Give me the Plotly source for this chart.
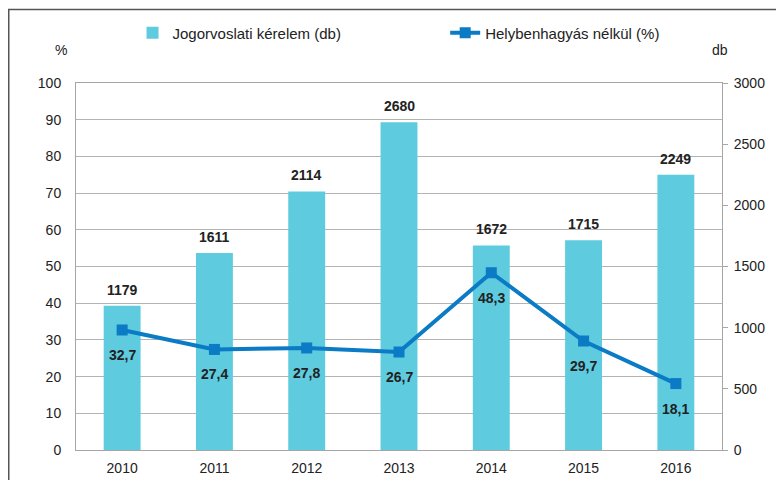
import plotly.graph_objects as go

years = ["2010", "2011", "2012", "2013", "2014", "2015", "2016"]
kerelem = [1179, 1611, 2114, 2680, 1672, 1715, 2249]
helyben = [32.7, 27.4, 27.8, 26.7, 48.3, 29.7, 18.1]
helyben_labels = ["32,7", "27,4", "27,8", "26,7", "48,3", "29,7", "18,1"]

BAR = "#5ecbdf"
LINE = "#0a7bc4"
FONT = "Liberation Sans, Arial, sans-serif"

# page body has an 8px margin: figure coords = screen coords - 8
L, T, R, B = 68, 75, 714, 442
W, H = 784, 480
PW, PH = R - L, B - T

fig = go.Figure()
fig.add_trace(go.Bar(
    x=years, y=kerelem, name="Jogorvoslati kérelem (db)", yaxis="y",
    marker=dict(color=BAR, line=dict(width=0)), width=0.4,
    legend="legend",
))
fig.add_trace(go.Scatter(
    x=years, y=helyben, name="Helybenhagyás nélkül (%)", yaxis="y2",
    mode="lines+markers", line=dict(color=LINE, width=4),
    marker=dict(symbol="square", size=11, color=LINE),
    legend="legend2",
))

annotations = []
for i, v in enumerate(kerelem):
    annotations.append(dict(x=i, y=v, xref="x", yref="y", text="<b>%d</b>" % v,
                            showarrow=False, yanchor="bottom", yshift=6,
                            font=dict(size=14, color="#222222", family=FONT)))
for i, (v, t) in enumerate(zip(helyben, helyben_labels)):
    annotations.append(dict(x=i, y=v, xref="x", yref="y2", text="<b>%s</b>" % t,
                            showarrow=False, yanchor="top", yshift=-15,
                            font=dict(size=14, color="#222222", family=FONT)))
annotations.append(dict(x=-7 / PW, y=1 + 33 / PH, xref="paper", yref="paper", text="%",
                        showarrow=False, xanchor="right", yanchor="middle",
                        font=dict(size=14, color="#222222", family=FONT)))
annotations.append(dict(x=643.5 / PW, y=1 + 33 / PH, xref="paper", yref="paper", text="db",
                        showarrow=False, xanchor="center", yanchor="middle",
                        font=dict(size=14, color="#222222", family=FONT)))

fig.update_layout(
    width=W, height=H,
    margin=dict(l=L, r=W - R, t=T, b=H - B, autoexpand=False),
    paper_bgcolor="white", plot_bgcolor="white",
    font=dict(family=FONT, size=13, color="#222222"),
    showlegend=True,
    legend=dict(x=0.0875, y=1.136, xanchor="left", yanchor="middle",
                orientation="h", bgcolor="rgba(0,0,0,0)",
                font=dict(size=15, color="#222222", family=FONT)),
    legend2=dict(x=0.5715, y=1.136, xanchor="left", yanchor="middle",
                 orientation="h", bgcolor="rgba(0,0,0,0)",
                 font=dict(size=15, color="#222222", family=FONT)),
    xaxis=dict(type="category", range=[-0.5, 6.5], showline=True, linecolor="#a6a6a6",
               linewidth=1, mirror=True, ticks="", showgrid=False,
               ticklabelstandoff=5,
               tickfont=dict(size=14, color="#222222")),
    yaxis=dict(range=[0, 3000], dtick=500, side="right",
               showgrid=False, showline=True, linecolor="#a6a6a6", zeroline=False,
               ticks="outside", ticklen=5, tickcolor="#a6a6a6", ticklabelstandoff=3,
               tickfont=dict(size=14, color="#222222")),
    yaxis2=dict(range=[0, 100], dtick=10, overlaying="y", side="left",
                showgrid=True, gridcolor="#b3b3b3", gridwidth=1, showline=True,
                linecolor="#a6a6a6", zeroline=False, ticks="", ticklabelstandoff=11,
                tickfont=dict(size=14, color="#222222")),
    annotations=annotations,
    shapes=[dict(type="rect", xref="paper", yref="paper",
                 x0=(0.75 - L) / PW, x1=(W + 20 - L) / PW,
                 y0=(B - (H + 20)) / PH, y1=(B - 1.5) / PH,
                 line=dict(color="#555555", width=1.5), fillcolor="rgba(0,0,0,0)",
                 layer="below")],
)

fig.write_html("out.html")
